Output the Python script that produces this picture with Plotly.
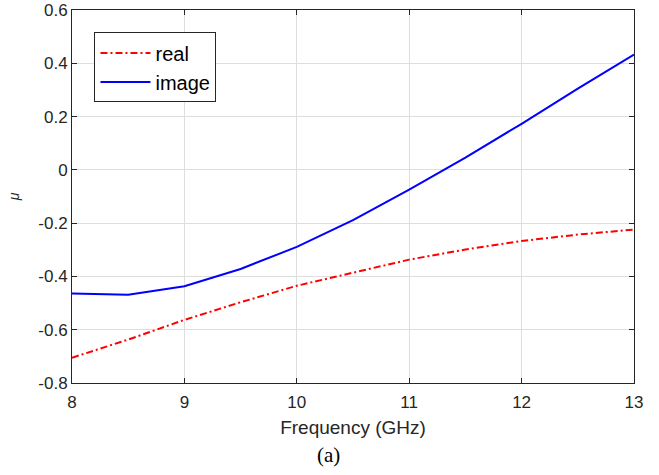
import plotly.graph_objects as go

freq = [8, 8.5, 9, 9.5, 10, 10.5, 11, 11.5, 12, 12.5, 13]
mu_real = [-0.705, -0.637, -0.563, -0.497, -0.435, -0.385, -0.337, -0.299, -0.267, -0.243, -0.224]
mu_image = [-0.464, -0.469, -0.437, -0.372, -0.289, -0.189, -0.074, 0.046, 0.173, 0.305, 0.433]

x_ticks = [8, 9, 10, 11, 12, 13]
y_ticks = [-0.8, -0.6, -0.4, -0.2, 0, 0.2, 0.4, 0.6]
y_ticklabels = ["-0.8", "-0.6", "-0.4", "-0.2", "0", "0.2", "0.4", "0.6"]

W, H = 659, 475
ML, MR, MT, MB = 72, 25, 10, 92

fig = go.Figure()
fig.add_trace(go.Scatter(x=freq, y=mu_real, mode="lines", name="real",
                         line=dict(color="#FF0000", width=2, dash="7px,3px,2px,3px")))
fig.add_trace(go.Scatter(x=freq, y=mu_image, mode="lines", name="image",
                         line=dict(color="#0000FF", width=2)))

axis_common = dict(showline=True, linecolor="#262626", linewidth=1, mirror="ticks",
                   ticks="inside", ticklen=5, tickcolor="#262626",
                   showgrid=True, gridcolor="#DEDEDE", gridwidth=1, zeroline=False,
                   tickfont=dict(family="Liberation Sans, Arial", size=17, color="#262626"))

fig.update_xaxes(range=[8, 13], tickvals=x_ticks, ticklabelstandoff=4,
                 title=dict(text="Frequency (GHz)",
                            font=dict(family="Liberation Sans, Arial", size=19, color="#262626"),
                            standoff=9),
                 **axis_common)
fig.update_yaxes(range=[-0.8, 0.6], tickvals=y_ticks, ticktext=y_ticklabels, automargin=False,
                 title=dict(text="<i>μ</i>",
                            font=dict(family="Liberation Sans, Arial", size=14, color="#262626")),
                 **axis_common)

plot_h = H - MT - MB
fig.update_layout(
    width=W, height=H,
    margin=dict(l=ML, r=MR, t=MT, b=MB),
    plot_bgcolor="white", paper_bgcolor="white",
    showlegend=True,
    legend=dict(x=0.04, y=0.94, xanchor="left", yanchor="top",
                bgcolor="white", bordercolor="#262626", borderwidth=1,
                font=dict(family="Liberation Sans, Arial", size=20, color="#000000"),
                tracegroupgap=0, itemwidth=50),
    annotations=[dict(text="(a)", x=0.457, y=(H - MB - 455) / plot_h,
                      xref="paper", yref="paper", yanchor="middle",
                      showarrow=False,
                      font=dict(family="Liberation Serif, Times New Roman", size=21, color="#000000"))],
)

fig.write_html("out.html", config={"displayModeBar": False},
               post_script="document.body.style.margin='0';")
